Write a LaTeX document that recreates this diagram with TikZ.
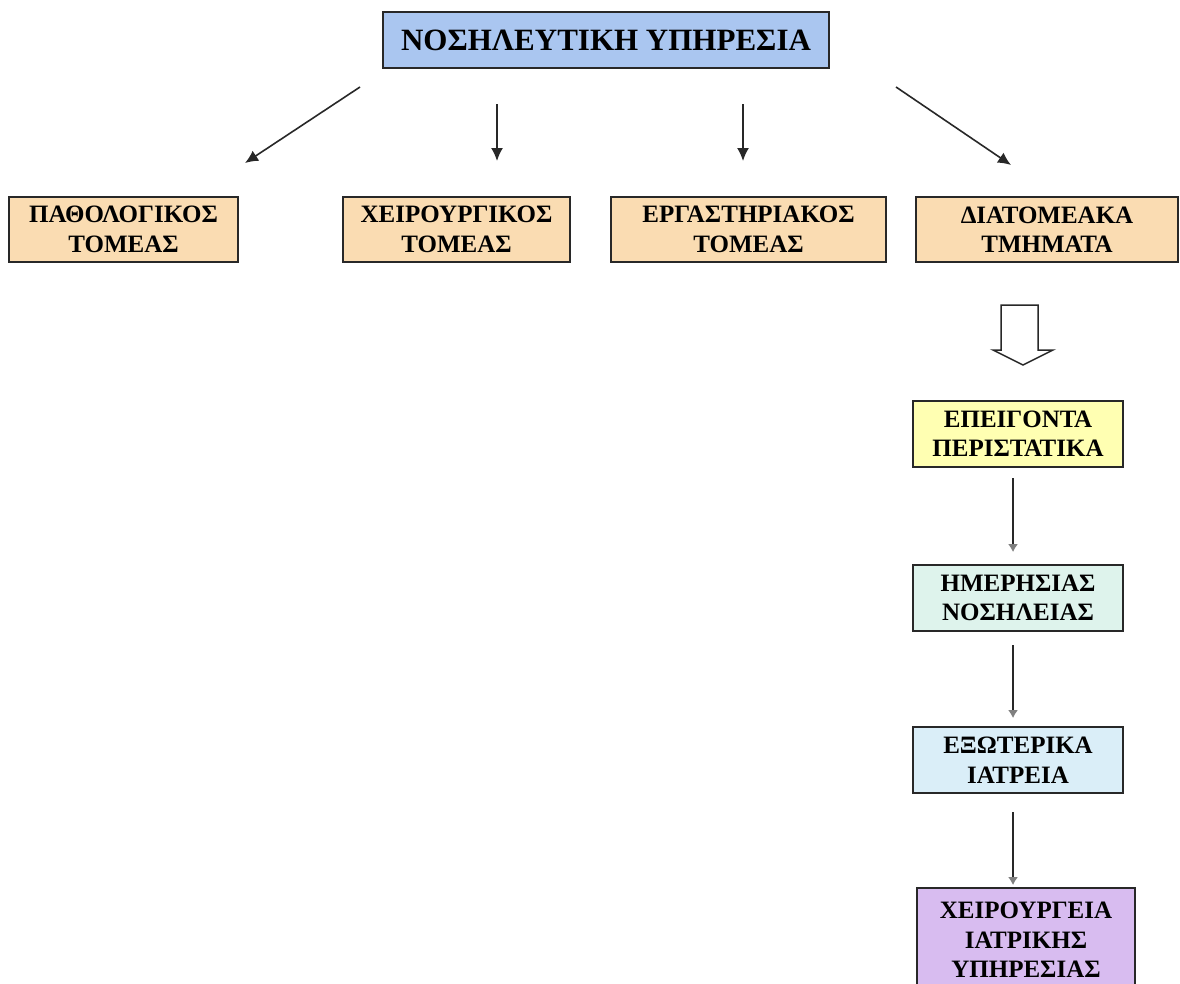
\documentclass[tikz,border=0pt]{standalone}
\usepackage{fontspec}
\setmainfont{Liberation Serif}
\usetikzlibrary{arrows.meta}
\definecolor{headblue}{RGB}{170,198,240}
\definecolor{sectpeach}{RGB}{250,220,178}
\definecolor{urgyellow}{RGB}{255,255,178}
\definecolor{daymint}{RGB}{222,243,236}
\definecolor{outcyan}{RGB}{218,238,248}
\definecolor{orlav}{RGB}{216,188,240}
\definecolor{edge}{RGB}{40,40,40}
\tikzset{
  box/.style={draw=edge, line width=2pt, align=center, inner sep=0pt,
    font=\bfseries\fontsize{25}{29.5}\selectfont},
  sectbox/.style={box, fill=sectpeach, minimum height=65pt},
  colbox/.style={box, minimum width=210pt, minimum height=66pt},
  link/.style={line width=1.6pt, draw=edge, -{Latex[length=13pt,width=12pt]}},
  vlink/.style={line width=1.3pt, draw=edge, -{Latex[gray,length=8pt,width=10pt]}}
}
\begin{document}
\begin{tikzpicture}[x=1pt,y=-1pt]
\useasboundingbox[fill=white] (0,0) rectangle (1180,983);

% head of the service
\node[box, fill=headblue, minimum width=446pt, minimum height=56pt,
      font=\bfseries\fontsize{31}{36}\selectfont] (head) at (606,40) {ΝΟΣΗΛΕΥΤΙΚΗ ΥΠΗΡΕΣΙΑ};

% sectors
\node[sectbox, minimum width=229pt] (path) at (123.5,229.5) {ΠΑΘΟΛΟΓΙΚΟΣ\\ΤΟΜΕΑΣ};
\node[sectbox, minimum width=227pt] (surg) at (456.5,229.5) {ΧΕΙΡΟΥΡΓΙΚΟΣ\\ΤΟΜΕΑΣ};
\node[sectbox, minimum width=275pt] (lab)  at (748.5,229.5) {ΕΡΓΑΣΤΗΡΙΑΚΟΣ\\ΤΟΜΕΑΣ};
\node[sectbox, minimum width=262pt] (inter) at (1047,229.5) {ΔΙΑΤΟΜΕΑΚΑ\\ΤΜΗΜΑΤΑ};

% arrows from the head to the sectors
\coordinate (a1s) at (360,87);   \coordinate (a1e) at (245,163);
\coordinate (a2s) at (497,104);  \coordinate (a2e) at (497,161);
\coordinate (a3s) at (743,104);  \coordinate (a3e) at (743,161);
\coordinate (a4s) at (896,87);   \coordinate (a4e) at (1011,165);
\draw[link] (a1s) -- (a1e);
\draw[link] (a2s) -- (a2e);
\draw[link] (a3s) -- (a3e);
\draw[link] (a4s) -- (a4e);

% hollow block arrow
\draw[draw=edge, line width=1.5pt, fill=white, line join=miter]
  (1001,305) -- (1038,305) -- (1038,350) -- (1053,350) -- (1023,365)
  -- (993,350) -- (1001,350) -- cycle;

% inter-sector departments
\node[colbox, fill=urgyellow] (urg) at (1018,433.5) {ΕΠΕΙΓΟΝΤΑ\\ΠΕΡΙΣΤΑΤΙΚΑ};
\node[colbox, fill=daymint]   (day) at (1018,598)   {ΗΜΕΡΗΣΙΑΣ\\ΝΟΣΗΛΕΙΑΣ};
\node[colbox, fill=outcyan]   (out) at (1018,760)   {ΕΞΩΤΕΡΙΚΑ\\ΙΑΤΡΕΙΑ};
% the last box runs past the lower edge of the page
\node[box, fill=orlav, minimum width=218pt, minimum height=104pt] (or) at (1026,940)
  {ΧΕΙΡΟΥΡΓΕΙΑ\\ΙΑΤΡΙΚΗΣ\\ΥΠΗΡΕΣΙΑΣ};

\coordinate (v1s) at (1013,478); \coordinate (v1e) at (1013,552);
\coordinate (v2s) at (1013,645); \coordinate (v2e) at (1013,718);
\coordinate (v3s) at (1013,812); \coordinate (v3e) at (1013,885);
\draw[vlink] (v1s) -- (v1e);
\draw[vlink] (v2s) -- (v2e);
\draw[vlink] (v3s) -- (v3e);
\end{tikzpicture}
\end{document}
